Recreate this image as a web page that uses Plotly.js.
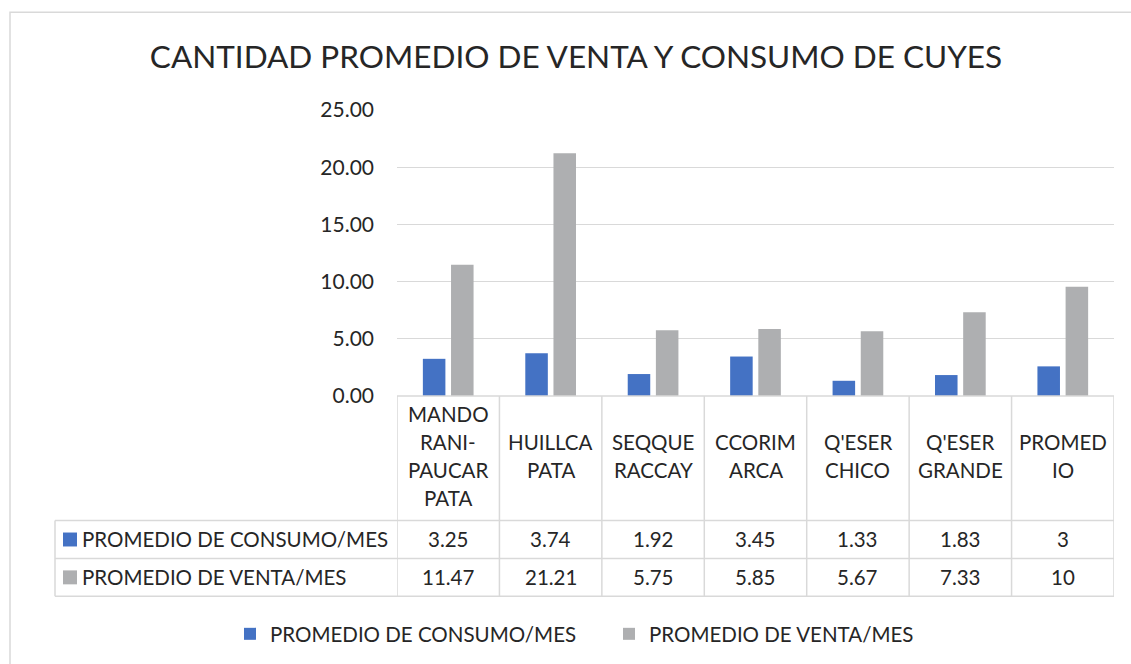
<!DOCTYPE html>
<html>
<head>
<meta charset="utf-8">
<script src="https://cdn.plot.ly/plotly-3.0.1.min.js"></script>
<style>html,body{margin:0;padding:0;background:#fff;}#chart{width:1131px;height:664px;}</style>
</head>
<body>
<div id="chart"></div>
<script>
const chartTitle = "CANTIDAD PROMEDIO DE VENTA Y CONSUMO DE CUYES";
const categories = ["MANDO\nRANI-\nPAUCAR\nPATA", "HUILLCA\nPATA", "SEQQUE\nRACCAY", "CCORIM\nARCA", "Q'ESER\nCHICO", "Q'ESER\nGRANDE", "PROMED\nIO"];
const seriesNames = ["PROMEDIO DE CONSUMO/MES", "PROMEDIO DE VENTA/MES"];
const consumo = [3.25, 3.74, 1.92, 3.45, 1.33, 1.83, 2.59];
const venta = [11.47, 21.21, 5.75, 5.85, 5.67, 7.33, 9.55];
const consumoLabels = ["3.25", "3.74", "1.92", "3.45", "1.33", "1.83", "3"];
const ventaLabels = ["11.47", "21.21", "5.75", "5.85", "5.67", "7.33", "10"];
const yTicks = [0, 5, 10, 15, 20, 25];
const colors = ["#4472C4", "#AEAFB1"];

const FONT = "Lato, 'Open Sans', sans-serif";
const TXT = "#262626";
const W = 1131, Hh = 664;
const L = 397, R = 1114, T = 110, B = 397;
const px = x => (x - L) / (R - L);
const py = y => (B - y) / (B - T);
const n = categories.length;
const xs = categories.map((c, i) => i);

const traces = [
  {type: "bar", x: xs, y: consumo, name: seriesNames[0], marker: {color: colors[0]}, hoverinfo: "y"},
  {type: "bar", x: xs, y: venta, name: seriesNames[1], marker: {color: colors[1]}, hoverinfo: "y"}
];

const lineC = "#D9D9D9";
const shapes = [];
shapes.push({type: "rect", xref: "paper", yref: "paper", x0: px(10), x1: px(1140), y0: py(12), y1: py(680), line: {color: lineC, width: 1.5}});
shapes.push({type: "line", xref: "x", yref: "paper", x0: -0.5, x1: n - 0.5, y0: 0, y1: 0, line: {color: lineC, width: 1.5}});
[522, 560, 598].forEach(y => shapes.push({type: "line", xref: "paper", yref: "paper", x0: px(55), x1: 1, y0: py(y), y1: py(y), line: {color: lineC, width: 1.5}}));
for (let i = 0; i <= n; i++) {
  shapes.push({type: "line", xref: "x", yref: "paper", x0: i - 0.5, x1: i - 0.5, y0: 0, y1: py(598), line: {color: lineC, width: 1.5}});
}
shapes.push({type: "line", xref: "paper", yref: "paper", x0: px(55), x1: px(55), y0: py(522), y1: py(598), line: {color: lineC, width: 1.5}});
const rowY = [541, 579];
rowY.forEach((y, k) => shapes.push({type: "rect", xref: "paper", yref: "paper", x0: px(63), x1: px(77), y0: py(y - 7), y1: py(y + 7), fillcolor: colors[k], line: {width: 0}}));

const annotations = [];
const fs = 20.5;
categories.forEach((c, i) => {
  const lines = c.split("\n");
  const sp = 28, cy = 457;
  lines.forEach((ln, j) => {
    const y = cy + (j - (lines.length - 1) / 2) * sp;
    annotations.push({xref: "x", yref: "paper", x: i, y: py(y), text: ln, showarrow: false, xanchor: "center", yanchor: "middle", font: {family: FONT, size: fs, color: TXT}});
  });
  annotations.push({xref: "x", yref: "paper", x: i, y: py(rowY[0]), text: consumoLabels[i], showarrow: false, xanchor: "center", yanchor: "middle", font: {family: FONT, size: fs, color: TXT}});
  annotations.push({xref: "x", yref: "paper", x: i, y: py(rowY[1]), text: ventaLabels[i], showarrow: false, xanchor: "center", yanchor: "middle", font: {family: FONT, size: fs, color: TXT}});
});
seriesNames.forEach((s, k) => {
  annotations.push({xref: "paper", yref: "paper", x: px(80), y: py(rowY[k]), text: s, showarrow: false, xanchor: "left", yanchor: "middle", font: {family: FONT, size: fs, color: TXT}});
});

const layout = {
  width: W, height: Hh,
  margin: {l: L, r: W - R, t: T, b: Hh - B, pad: 0},
  paper_bgcolor: "#fff", plot_bgcolor: "#fff",
  font: {family: FONT, color: TXT},
  title: {text: chartTitle, x: 576 / W, xanchor: "center", y: 1 - 57 / Hh, yanchor: "middle", font: {family: FONT, size: 31.5, color: TXT}},
  barmode: "group", bargap: 0.45, bargroupgap: 0.2,
  xaxis: {range: [-0.5, n - 0.5], showticklabels: false, showgrid: false, zeroline: false, showline: false, ticks: "", fixedrange: true},
  yaxis: {range: [0, 25], tickvals: yTicks, tickformat: ".2f", showgrid: true, gridcolor: lineC, gridwidth: 1.3, zeroline: false, showline: false, ticks: "", ticklabelstandoff: 22, tickfont: {family: FONT, size: 21, color: TXT}, fixedrange: true},
  showlegend: true,
  legend: {orientation: "h", x: px(230), xanchor: "left", y: py(634), yanchor: "middle", font: {family: FONT, size: 20.5, color: TXT}, entrywidth: 334, entrywidthmode: "pixels", tracegroupgap: 0, bgcolor: "rgba(0,0,0,0)"},
  shapes: shapes,
  annotations: annotations
};

Plotly.newPlot("chart", traces, layout, {displayModeBar: false, staticPlot: true});
</script>
</body>
</html>
